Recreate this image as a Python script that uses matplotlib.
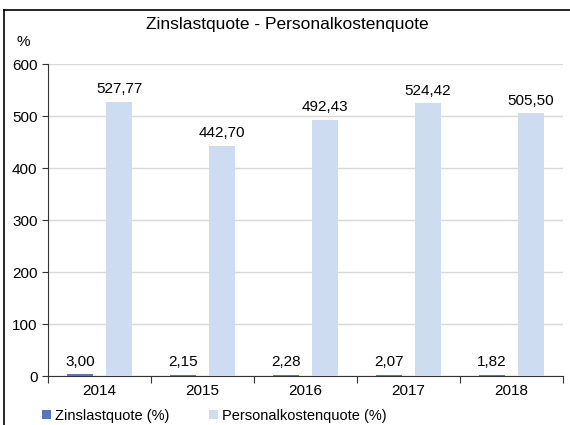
import matplotlib
matplotlib.use("Agg")
import matplotlib.pyplot as plt
from matplotlib.lines import Line2D
from matplotlib.patches import Patch
import numpy as np

plt.rcParams['font.family'] = ['Liberation Sans', 'DejaVu Sans']

years = ["2014", "2015", "2016", "2017", "2018"]
zinslast = [3.00, 2.15, 2.28, 2.07, 1.82]
personal = [527.77, 442.70, 492.43, 524.42, 505.50]
series_names = ["Zinslastquote (%)", "Personalkostenquote (%)"]
title = "Zinslastquote - Personalkostenquote"

c_dark = "#5576bb"
c_light = "#cddcf0"

W, H = 570, 425
fig = plt.figure(figsize=(W / 100, H / 100), dpi=100)
ax = fig.add_axes([48 / W, 1 - 376 / H, (563 - 48) / W, (376 - 64) / H])

x = np.arange(len(years))
bw = 0.25
off = 0.19
b1 = ax.bar(x - off, zinslast, bw, color=c_dark, zorder=3)
b2 = ax.bar(x + off, personal, bw, color=c_light, zorder=3)

def fmt(v):
    return f"{v:.2f}".replace(".", ",")

for rect, v in zip(b1, zinslast):
    ax.annotate(fmt(v), (rect.get_x() + rect.get_width() / 2, v),
                xytext=(0, 4), textcoords="offset points",
                ha="center", va="bottom", fontsize=11)
for rect, v in zip(b2, personal):
    ax.annotate(fmt(v), (rect.get_x() + rect.get_width() / 2, v),
                xytext=(0, 4), textcoords="offset points",
                ha="center", va="bottom", fontsize=11)

ax.set_xlim(-0.5, len(years) - 0.5)
ax.set_ylim(0, 600)
ax.set_yticks(range(0, 601, 100))
ax.tick_params(axis="y", labelsize=11, length=4, width=0.8, color="#333333")
ax.yaxis.grid(True, color="#d9d9d9", linewidth=1, zorder=0)

# category labels centred, ticks on category boundaries
ax.set_xticks(x)
ax.set_xticklabels(years, fontsize=11)
ax.tick_params(axis="x", which="major", length=0, pad=6)
ax.set_xticks(np.arange(-0.5, len(years), 1), minor=True)
ax.tick_params(axis="x", which="minor", length=5, width=0.8, color="#333333")

for s in ["top", "right"]:
    ax.spines[s].set_visible(False)
ax.spines["left"].set_color("#333333")
ax.spines["bottom"].set_color("#333333")

fig.text(287 / W, 1 - 25 / H, title, ha="center", va="center", fontsize=12.5)
fig.text(23 / W, 1 - 42 / H, "%", ha="center", va="center", fontsize=11)

handles = [Patch(facecolor=c_dark), Patch(facecolor=c_light)]
fig.legend(handles, series_names, loc="center left",
           bbox_to_anchor=(42 / W, 1 - 416 / H), ncol=2, frameon=False,
           fontsize=10.5, handlelength=0.6, handleheight=0.6,
           handletextpad=0.3, columnspacing=2.7, borderaxespad=0, borderpad=0)

# outer frame (top and left edge)
fig.add_artist(Line2D([4 / W, 1], [1 - 10 / H, 1 - 10 / H], color="black", linewidth=1.2))
fig.add_artist(Line2D([4 / W, 4 / W], [0, 1 - 10 / H], color="black", linewidth=1.2))

fig.savefig("out.png", dpi=100)
